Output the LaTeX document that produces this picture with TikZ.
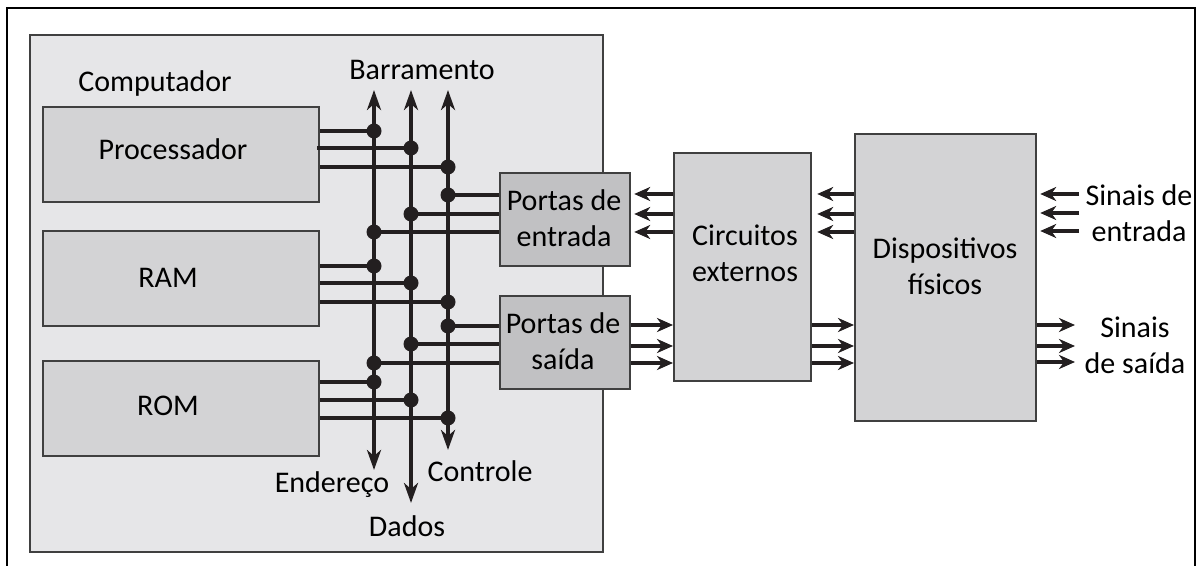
\documentclass[tikz,border=0pt]{standalone}
\usepackage{fontspec}
\setmainfont{Carlito}
\usetikzlibrary{arrows.meta}
\definecolor{bgc}{HTML}{E6E6E8}
\definecolor{boxc}{HTML}{D3D3D5}
\definecolor{portc}{HTML}{C1C1C3}
\definecolor{edgec}{HTML}{404040}
\definecolor{wirec}{HTML}{231F20}
\begin{document}
\begin{tikzpicture}[x=0.5pt,y=-0.5pt,
  blk/.style={draw=edgec, line width=1.1pt, inner sep=0pt, anchor=north west},
  wire/.style={draw=wirec, line width=1.9pt},
  arr/.style={wire, -{Stealth[length=8pt,width=7pt,inset=2.5pt]}},
  busarr/.style={wire, {Stealth[length=10pt,width=7pt,inset=3pt]}-{Stealth[length=10pt,width=7pt,inset=3pt]}},
  dot/.style={circle, fill=wirec, inner sep=0pt, minimum size=7.5pt},
  lbl/.style={font=\fontsize{15pt}{18pt}\selectfont, inner sep=0pt, align=center, text=black}]
\useasboundingbox (0,0) rectangle (1200,566);
% outer frame
\draw[line width=1pt] (7,640) -- (7,8) -- (1195,8) -- (1195,640);
% computer
\node[blk, fill=bgc, minimum width=286.5pt, minimum height=258.5pt] (comp) at (29,34) {};
\node[lbl] (tcomp) at (155,84) {Computador};
\node[blk, fill=boxc, minimum width=138pt, minimum height=47.5pt] (proc) at (42,106) {};
\node[blk, fill=boxc, minimum width=138pt, minimum height=47.5pt] (ram) at (42,230) {};
\node[blk, fill=boxc, minimum width=138pt, minimum height=47.5pt] (rom) at (42,360) {};
\node[lbl] (tproc) at (173,149) {Processador};
\node[lbl] (tram) at (168,278) {RAM};
\node[lbl] (trom) at (168,406) {ROM};
% ports
\node[blk, fill=portc, minimum width=65pt, minimum height=46.5pt] (pin) at (499,172) {};
\node[blk, fill=portc, minimum width=65pt, minimum height=46.5pt] (pout) at (499,295) {};
\node[lbl] (tpin) at (564,218) {Portas de\\entrada};
\node[lbl] (tpout) at (563,341) {Portas de\\saída};
% external
\node[blk, fill=boxc, minimum width=68.5pt, minimum height=114pt] (circ) at (673,152) {};
\node[lbl] (tcirc) at (745,253.5) {Circuitos\\externos};
\node[blk, fill=boxc, minimum width=90.5pt, minimum height=143.5pt] (dev) at (854,133) {};
\node[lbl] (tdev) at (945,266.5) {Dispositivos\\físicos};
% bus
\coordinate (atop) at (374,90); \coordinate (abot) at (374,470);
\coordinate (dtop) at (411,90); \coordinate (dbot) at (411,503);
\coordinate (ctop) at (448,90); \coordinate (cbot) at (448,450);
\draw[busarr] (atop) -- (abot);
\draw[busarr] (dtop) -- (dbot);
\draw[busarr] (ctop) -- (cbot);
\node[lbl] (tbus) at (422,70) {Barramento};
\node[lbl] (taddr) at (332,485) {Endereço};
\node[lbl] (tctrl) at (480,471) {Controle};
\node[lbl] (tdata) at (407,526) {Dados};
% bus taps
\coordinate (a1) at (374,131); \coordinate (d1) at (411,148); \coordinate (c1) at (448,167);
\coordinate (c2) at (448,195); \coordinate (d2) at (411,214); \coordinate (a2) at (374,232);
\coordinate (a3) at (374,266); \coordinate (d3) at (411,283); \coordinate (c3) at (448,302);
\coordinate (c4) at (448,326); \coordinate (d4) at (411,344); \coordinate (a4) at (374,363);
\coordinate (a5) at (374,382); \coordinate (d5) at (411,400); \coordinate (c5) at (448,418);
\foreach \b/\d in {proc/a1, proc/c1, ram/a3, ram/d3, ram/c3, rom/a5, rom/d5, rom/c5}
  \draw[wire] (\b.east |- \d) -- (\d);
\draw[wire] ([xshift=-1.5pt]proc.east |- d1) -- (d1);
\foreach \b/\d in {pin/c2, pin/d2, pin/a2, pout/c4, pout/d4, pout/a4}
  \draw[wire] (\d) -- (\b.west |- \d);
\foreach \d in {a1,d1,c1,c2,d2,a2,a3,d3,c3,c4,d4,a4,a5,d5,c5}
  \node[dot] (n\d) at (\d) {};
% signal levels
\coordinate (y1) at (0,194); \coordinate (y2) at (0,214); \coordinate (y3) at (0,232);
\coordinate (y4) at (0,325); \coordinate (y5) at (0,346); \coordinate (y6) at (0,363);
\coordinate (inA) at (1079,194); \coordinate (inB) at (1079,213); \coordinate (inC) at (1079,231);
\coordinate (outA) at (1075,325); \coordinate (outB) at (1075,346); \coordinate (outC) at (1075,362);
\foreach \y in {y1,y2,y3} {
  \draw[arr] (circ.west |- \y) -- ([xshift=1.5pt]pin.east |- \y);
  \draw[arr] (dev.west |- \y) -- ([xshift=2.5pt]circ.east |- \y);
}
\foreach \y in {y4,y5,y6} {
  \draw[arr] (pout.east |- \y) -- (circ.west |- \y);
  \draw[arr] (circ.east |- \y) -- (dev.west |- \y);
}
\foreach \c in {inA,inB,inC}
  \draw[arr] (\c) -- ([xshift=1.5pt]dev.east |- \c);
\foreach \c in {outA,outB,outC}
  \draw[arr] (dev.east |- \c) -- (\c);
\node[lbl] (tsin) at (1139,213.5) {Sinais de\\entrada};
\node[lbl] (tsout) at (1135,345) {Sinais\\de saída};
\end{tikzpicture}
\end{document}
